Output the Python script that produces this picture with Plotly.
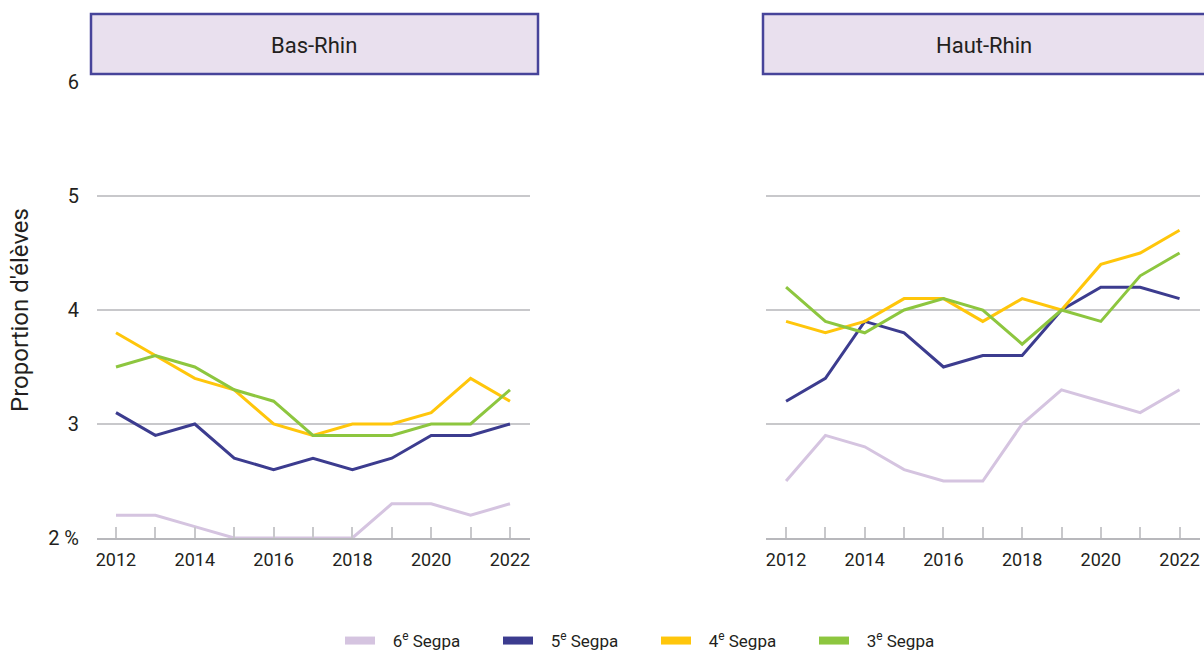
import plotly.graph_objects as go

years = list(range(2012, 2023))
series_names = ["6<sup>e</sup> Segpa", "5<sup>e</sup> Segpa", "4<sup>e</sup> Segpa", "3<sup>e</sup> Segpa"]
colors = ["#d5c4e0", "#3c3c8f", "#ffc60b", "#8dc63f"]

# Bas-Rhin
bas_6e = [2.2, 2.2, 2.1, 2.0, 2.0, 2.0, 2.0, 2.3, 2.3, 2.2, 2.3]
bas_5e = [3.1, 2.9, 3.0, 2.7, 2.6, 2.7, 2.6, 2.7, 2.9, 2.9, 3.0]
bas_4e = [3.8, 3.6, 3.4, 3.3, 3.0, 2.9, 3.0, 3.0, 3.1, 3.4, 3.2]
bas_3e = [3.5, 3.6, 3.5, 3.3, 3.2, 2.9, 2.9, 2.9, 3.0, 3.0, 3.3]

# Haut-Rhin
haut_6e = [2.5, 2.9, 2.8, 2.6, 2.5, 2.5, 3.0, 3.3, 3.2, 3.1, 3.3]
haut_5e = [3.2, 3.4, 3.9, 3.8, 3.5, 3.6, 3.6, 4.0, 4.2, 4.2, 4.1]
haut_4e = [3.9, 3.8, 3.9, 4.1, 4.1, 3.9, 4.1, 4.0, 4.4, 4.5, 4.7]
haut_3e = [4.2, 3.9, 3.8, 4.0, 4.1, 4.0, 3.7, 4.0, 3.9, 4.3, 4.5]

y_ticks = [2, 3, 4, 5, 6]
y_ticklabels = ["2 %", "3", "4", "5", "6"]
x_ticks = [2012, 2014, 2016, 2018, 2020, 2022]

FONT = "Roboto, Liberation Sans, sans-serif"
TXT = "#231f20"
W, H = 1204, 653
GRID = "#c8c8cb"


def px(x):
    # window pixel -> paper fraction
    return x / W


def py(y):
    return 1 - y / H


fig = go.Figure()

panels = [("x", "y", [bas_6e, bas_5e, bas_4e, bas_3e]),
          ("x2", "y2", [haut_6e, haut_5e, haut_4e, haut_3e])]
for xa, ya, vals in panels:
    for name, col, v in zip(series_names, colors, vals):
        fig.add_trace(go.Scatter(
            x=years, y=v, xaxis=xa, yaxis=ya, mode="lines", name=name,
            line=dict(color=col, width=3), showlegend=False, legendgroup=name,
        ))

# legend entries with the thick swatches of the original
for name, col in zip(series_names, colors):
    fig.add_trace(go.Scatter(x=[None], y=[None], mode="lines", name="\u00a0\u00a0\u00a0" + name,
                             line=dict(color=col, width=8), legendgroup=name))

ydom = [py(538), py(82)]
xaxis_common = dict(
    tickvals=x_ticks, ticks="inside", ticklen=11, tickcolor=GRID, tickwidth=1.5,
    minor=dict(dtick=1, ticks="inside", ticklen=11, tickcolor=GRID, tickwidth=1.5),
    showgrid=False, zeroline=False, showline=True, linecolor="#b8b8bc", linewidth=2,
    ticklabelstandoff=4,
    tickfont=dict(family=FONT, size=18, color=TXT),
)
yaxis_common = dict(
    range=[2, 6], domain=ydom, tickvals=y_ticks, showgrid=True, gridcolor=GRID,
    gridwidth=1.5, zeroline=False, showline=False, ticks="",
)

fig.update_layout(
    width=W, height=H, paper_bgcolor="white", plot_bgcolor="white",
    margin=dict(l=0, r=0, t=0, b=0, autoexpand=False),
    font=dict(family=FONT, color=TXT),
    xaxis=dict(xaxis_common, domain=[px(97), px(530)], range=[2011.518, 2022.508], anchor="y"),
    xaxis2=dict(xaxis_common, domain=[px(766), px(1200)], range=[2011.49, 2022.52], anchor="y2"),
    yaxis=dict(yaxis_common, anchor="x", ticktext=y_ticklabels, ticklabelstandoff=17,
               tickfont=dict(family=FONT, size=20, color=TXT),
               title=dict(text="Proportion d'élèves", standoff=12,
                          font=dict(family=FONT, size=24, color=TXT))),
    yaxis2=dict(yaxis_common, anchor="x2", showticklabels=False),
    legend=dict(orientation="h", x=px(340), xanchor="left", y=py(641), yanchor="middle",
                font=dict(family=FONT, size=17, color=TXT),
                entrywidth=113, itemwidth=30, traceorder="normal"),
    showlegend=True,
)

# header boxes above each panel
for x0, x1, xc, label in [(91, 538, 314, "Bas-Rhin"), (763, 1212, 984, "Haut-Rhin")]:
    fig.add_shape(type="rect", xref="paper", yref="paper",
                  x0=px(x0), x1=px(x1), y0=py(74), y1=py(14),
                  fillcolor="#e9e0ee", line=dict(color="#47449a", width=2.5))
    fig.add_annotation(xref="paper", yref="paper", x=px(xc), y=py(45), text=label,
                       xanchor="center", yanchor="middle", showarrow=False,
                       font=dict(family=FONT, size=22, color=TXT))

# drop the default page margin so the figure sits in the window corner
fig.write_html("out.html", config={"displayModeBar": False},
               post_script="document.body.style.margin='0';document.body.style.overflow='hidden';")
